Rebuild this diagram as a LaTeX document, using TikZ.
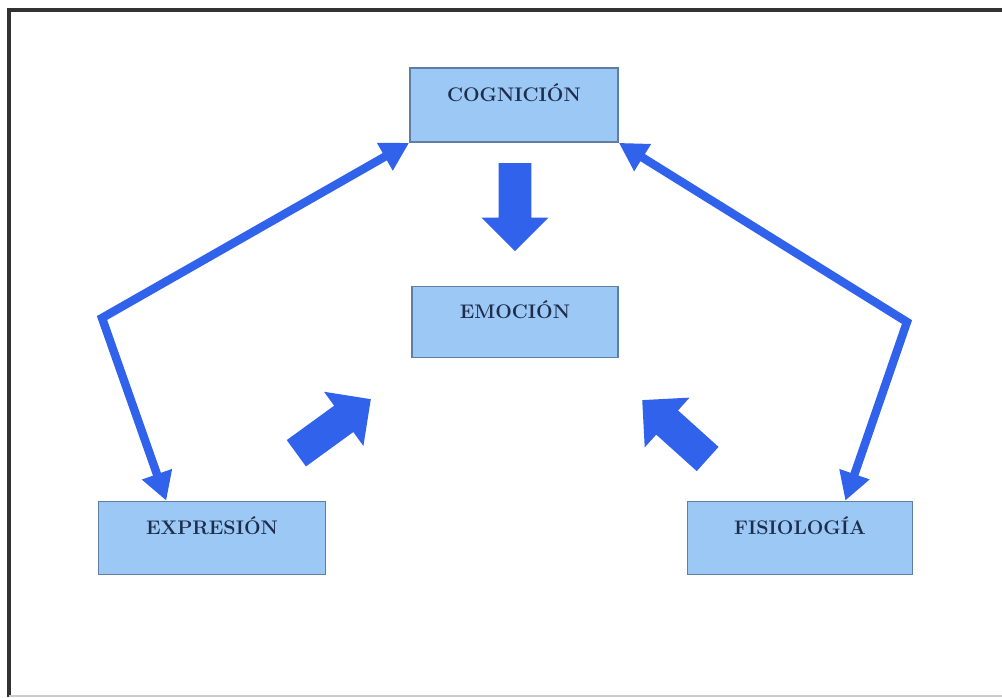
\documentclass[tikz,border=0pt]{standalone}
\usetikzlibrary{calc,arrows.meta,shapes.arrows}
\definecolor{boxfill}{RGB}{155,200,245}
\definecolor{boxline}{RGB}{95,125,165}
\definecolor{arrowblue}{RGB}{48,98,236}
\definecolor{textnavy}{RGB}{30,45,75}
\tikzset{concept/.style={%
        rectangle,
        minimum width=5.2cm,minimum height=1.85cm,
        text height=0.3cm,text depth=0.5cm,
        font=\fontsize{14}{16}\selectfont\bfseries,text=textnavy,
        line width=1.2pt,
        draw=boxline,fill=boxfill}}
\tikzset{link/.style={draw=arrowblue,line width=0.21cm,
        {Triangle[length=0.7cm,width=0.75cm]}-{Triangle[length=0.7cm,width=0.75cm]}}}
\tikzset{push/.style={single arrow,fill=arrowblue,draw=none,
        inner xsep=0pt,inner ysep=0.4cm,text height=0pt,text depth=0pt,
        minimum height=2.3cm,single arrow head extend=0.43cm}}
\tikzset{frame/.style={line width=2.4pt,draw={rgb,255:red,50;green,50;blue,50}}}

\begin{document}
\begin{tikzpicture}[x=0.025cm,y=-0.025cm]
  \useasboundingbox (0,0) rectangle (1002,698);
  \draw [frame] (9,697) -- (9,10) -- (1002,10);
  \draw [line width=1pt,draw=black!20] (9,696) -- (1002,696);
  \node [concept] (cog) at (514,105) {COGNICIÓN};
  \node [concept,minimum width=5.15cm,minimum height=1.775cm] (emo) at (515,322) {EMOCIÓN};
  \node [concept,minimum width=5.675cm,minimum height=1.825cm] (exp) at (212,538) {EXPRESIÓN};
  \node [concept,minimum width=5.625cm,minimum height=1.825cm] (fis) at (800,538) {FISIOLOGÍA};
  \coordinate (bendL) at (102,318);
  \coordinate (bendR) at (907,322);
  \draw [link] (cog.south west) -- (bendL) -- ($(exp.north west)!0.3!(exp.north east)$);
  \draw [link] (cog.south east) -- (bendR) -- ($(fis.north west)!0.7!(fis.north east)$);
  \node [push,minimum height=2.2cm,rotate=-90] (down) at (515,199) {};
  \node [push,rotate=36] (upL) at (327,431) {};
  \node [push,minimum height=2.2cm,rotate=138] (upR) at (681,435) {};
\end{tikzpicture}
\end{document}
